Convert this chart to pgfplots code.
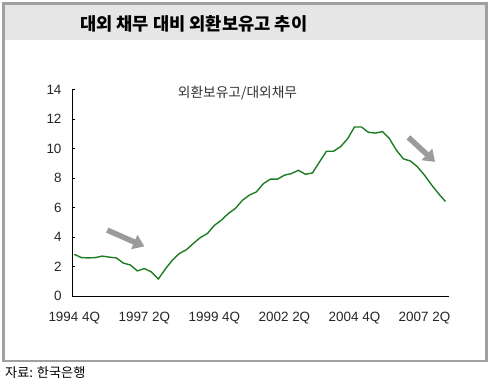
\documentclass[border=0pt]{standalone}
\usepackage{fontspec}
\setmainfont{Liberation Sans}
\newfontfamily\kr{Noto Sans CJK KR}
\usepackage{pgfplots}
\pgfplotsset{compat=1.18}
\usetikzlibrary{arrows.meta}
\definecolor{linegreen}{RGB}{30,125,35}
\definecolor{arrowgray}{RGB}{155,155,155}
\definecolor{framegray}{RGB}{160,160,160}
\definecolor{headgray}{RGB}{230,230,230}
\begin{document}
\begin{tikzpicture}[x=1bp,y=1bp]
\fill[white] (0,0) rectangle (490,385);
\useasboundingbox (0,0) rectangle (490,385);
\fill[headgray] (3.5,345) rectangle (486.5,381.5);
\draw[framegray, line width=2.5bp] (3.5,24) rectangle (486.5,381.5);
\node[anchor=west, inner sep=0pt] at (80,361) {\kr\bfseries\fontsize{17.7}{20}\selectfont 대외 채무 대비 외환보유고 추이};
\node[anchor=west, inner sep=0pt] at (5,12) {\kr\fontsize{13.2}{15}\selectfont 자료: 한국은행};
\begin{axis}[
  at={(72bp,88.7bp)}, anchor=south west,
  scale only axis, width=377bp, height=206.8bp,
  xmin=-0.33, xmax=53.5, ymin=0, ymax=14,
  axis x line=bottom, axis y line=left,
  axis line style={black, line width=0.8pt, -},
  ytick={0,2,...,14},
  xtick={0,10,20,30,40,50},
  xticklabels={1994 4Q,1997 2Q,1999 4Q,2002 2Q,2004 4Q,2007 2Q},
  x tick style={draw=none},
  y tick style={black, line width=0.8pt},
  tick align=inside,
  major tick length=3bp,
  /pgf/number format/assume math mode=true,
  tick label style={font=\fontsize{13.5}{16}\selectfont, text=black!85},
  xticklabel style={yshift=-12bp},
  yticklabel style={xshift=-7bp},
  clip=false,
]
\addplot[linegreen, line width=1.4bp] coordinates {
(0,2.84) (1,2.62) (2,2.60) (3,2.62) (4,2.72) (5,2.65) (6,2.60) (7,2.25)
(8,2.12) (9,1.72) (10,1.88) (11,1.65) (12,1.17) (13,1.85) (14,2.45) (15,2.90)
(16,3.15) (17,3.58) (18,3.98) (19,4.25) (20,4.80) (21,5.16) (22,5.61) (23,5.95)
(24,6.50) (25,6.85) (26,7.07) (27,7.63) (28,7.93) (29,7.93) (30,8.20) (31,8.31)
(32,8.53) (33,8.26) (34,8.35) (35,9.09) (36,9.82) (37,9.82) (38,10.12) (39,10.65)
(40,11.46) (41,11.46) (42,11.10) (43,11.05) (44,11.15) (45,10.67) (46,9.88) (47,9.30)
(48,9.16) (49,8.76) (50,8.20) (51,7.55) (52,6.95) (53,6.42)
};
\draw[arrowgray, line width=5.5bp, -{Triangle[length=11bp, width=15bp]}] (axis cs:4.7,4.48) -- (axis cs:10.0,3.38);
\draw[arrowgray, line width=5.5bp, -{Triangle[length=11bp, width=15bp]}] (axis cs:47.7,10.76) -- (axis cs:51.5,9.1);
\node[anchor=center, inner sep=0pt] at (axis cs:23.3,13.75) {\kr\fontsize{13.8}{16}\selectfont\color{black!80}외환보유고/대외채무};
\end{axis}
\end{tikzpicture}
\end{document}
